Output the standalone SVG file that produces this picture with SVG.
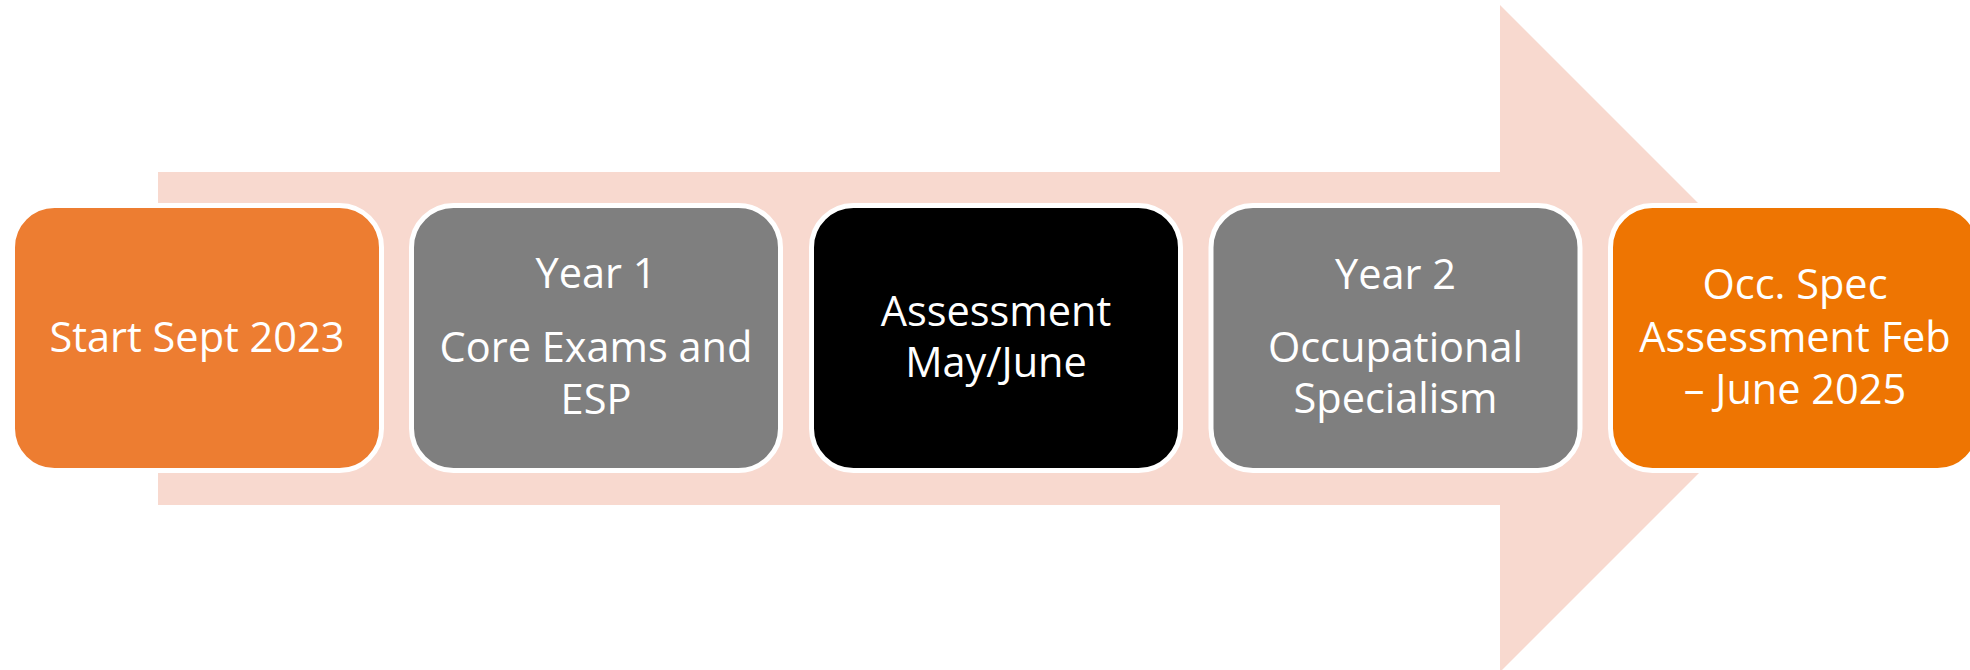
<svg xmlns="http://www.w3.org/2000/svg" width="1970" height="670" viewBox="0 0 1970 670">
  <style>
    .box { stroke: #FFFFFF; stroke-width: 5; }
    .orange { fill: #ED7D31; }
    .grey { fill: #7F7F7F; }
    .black { fill: #000000; }
    .deep-orange { fill: #EE7502; }
    .label { font-family: "Open Sans", "Noto Sans", "Liberation Sans", sans-serif; font-size: 41.5px; fill: #FFFFFF; text-anchor: middle; }
  </style>
  <rect width="1970" height="670" fill="#FFFFFF"/>

  <!-- large block arrow running behind the steps -->
  <g id="connectors">
    <path id="timeline-arrow" d="M158 172 H1500 V5 L1833.5 338.5 L1500 672 V505 H158 Z" fill="#F8D9CF"/>
  </g>

  <g id="step-start">
    <rect class="box orange" x="12.5" y="205.5" width="369" height="265" rx="42"/>
    <text class="label" x="197" y="351.7">Start Sept 2023</text>
  </g>

  <g id="step-year1">
    <rect class="box grey" x="411.5" y="205.5" width="369" height="265" rx="42"/>
    <text class="label" x="596" y="288.3">Year 1</text>
    <text class="label" x="596" y="361.7">Core Exams and</text>
    <text class="label" x="596" y="414.3">ESP</text>
  </g>

  <g id="step-assessment">
    <rect class="box black" x="811.5" y="205.5" width="369" height="265" rx="42"/>
    <text class="label" x="996" y="325.7">Assessment</text>
    <text class="label" x="996" y="376.7">May/June</text>
  </g>

  <g id="step-year2">
    <rect class="box grey" x="1211" y="205.5" width="369" height="265" rx="42"/>
    <text class="label" x="1395.5" y="289">Year 2</text>
    <text class="label" x="1395.5" y="361.7">Occupational</text>
    <text class="label" x="1395.5" y="413.3">Specialism</text>
  </g>

  <g id="step-occ-spec">
    <rect class="box deep-orange" x="1610.5" y="205.5" width="369" height="265" rx="42"/>
    <text class="label" x="1795" y="299">Occ. Spec</text>
    <text class="label" x="1795" y="351.7">Assessment Feb</text>
    <text class="label" x="1795" y="404">– June 2025</text>
  </g>
</svg>
